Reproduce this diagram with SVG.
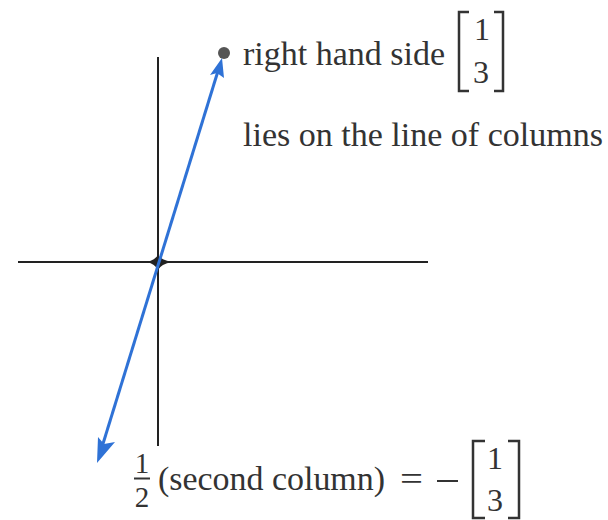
<svg xmlns="http://www.w3.org/2000/svg" width="608" height="520" viewBox="0 0 608 520">
<style>
text{font-family:'Liberation Serif','DejaVu Serif',serif;fill:#333}
.t{font-size:34px}
.n{font-size:32px;text-anchor:middle}
.f{font-size:29px;text-anchor:middle}
.axis{stroke:#222;stroke-width:2;fill:none}
.br{stroke:#333;stroke-width:2.5;fill:none}
.vec{stroke:#2f72d6;stroke-width:3;fill:none}
.head{fill:#2f72d6}
</style>
<rect width="608" height="520" fill="#fff"/>
<g id="axes">
<line class="axis" x1="18" y1="262" x2="428" y2="262"/>
<line class="axis" x1="158" y1="57" x2="158" y2="446"/>
<path d="M147,262 Q155,260 158,255 Q161,260 172,262 Q161,264 158,270 Q155,264 147,262 Z" fill="#222"/>
</g>
<g id="connectors">
<line class="vec" x1="102" y1="447" x2="218" y2="71"/>
<path class="head" d="M222,58 L224,78 L217,73 L210,75 Z"/>
<path class="head" d="M97,463 L98,437 L104,444 L115,442 Z"/>
</g>
<g id="rhs-point">
<circle cx="224" cy="53" r="6" fill="#555"/>
<text class="t" x="243" y="65" textLength="202" lengthAdjust="spacingAndGlyphs">right hand side</text>
<path class="br" d="M469,12 H459 V91 H469"/>
<path class="br" d="M494,12 H503 V91 H494"/>
<text class="n" x="482" y="40">1</text>
<text class="n" x="481" y="83">3</text>
</g>
<g id="line-label">
<text class="t" x="243" y="146" textLength="360" lengthAdjust="spacingAndGlyphs">lies on the line of columns</text>
</g>
<g id="second-column-label">
<text class="f" x="142" y="473">1</text>
<line x1="134" y1="478.5" x2="150" y2="478.5" stroke="#333" stroke-width="2"/>
<text class="f" x="142" y="507">2</text>
<text class="t" x="158" y="490" textLength="227" lengthAdjust="spacingAndGlyphs">(second column)</text>
<text class="t" x="400" y="490" textLength="23" lengthAdjust="spacingAndGlyphs">=</text>
<line x1="437" y1="481" x2="458" y2="481" stroke="#333" stroke-width="2"/>
<path class="br" d="M485,441 H473 V518 H485"/>
<path class="br" d="M508,441 H519 V518 H508"/>
<text class="n" x="495" y="469">1</text>
<text class="n" x="495" y="511">3</text>
</g>
</svg>
